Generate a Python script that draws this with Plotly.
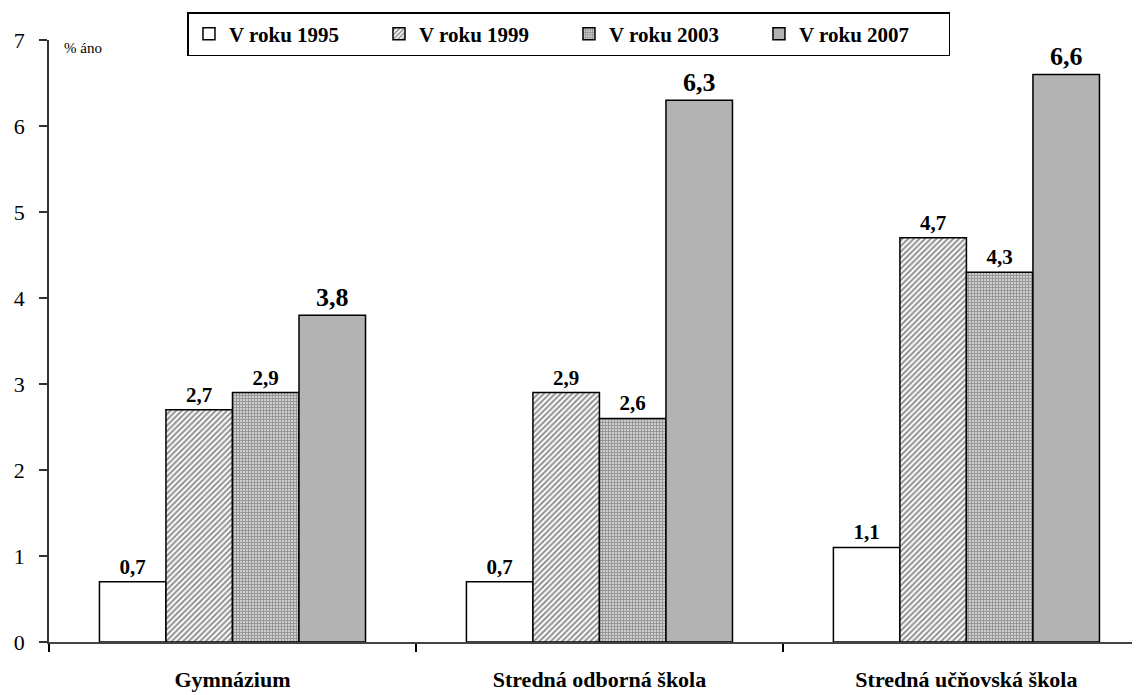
import plotly.graph_objects as go

categories = ["Gymnázium", "Stredná odborná škola", "Stredná učňovská škola"]
series_names = ["V roku 1995", "V roku 1999", "V roku 2003", "V roku 2007"]
v1995 = [0.7, 0.7, 1.1]
v1999 = [2.7, 2.9, 4.7]
v2003 = [2.9, 2.6, 4.3]
v2007 = [3.8, 6.3, 6.6]
y_ticks = [0, 1, 2, 3, 4, 5, 6, 7]

FONT = "Liberation Serif, Times New Roman, serif"

styles = [
    dict(color="white", pattern=None, tsize=21),
    dict(color="white", pattern=dict(shape="/", fgcolor="#222222", bgcolor="white", size=4, solidity=0.5), tsize=21),
    dict(color="#aaaaaa", pattern=dict(shape="+", fgcolor="#555555", bgcolor="#cfcfcf", size=3, solidity=0.5), tsize=21),
    dict(color="#b3b3b3", pattern=None, tsize=26),
]

fig = go.Figure()
for name, vals, st in zip(series_names, [v1995, v1999, v2003, v2007], styles):
    marker = dict(color=st["color"], line=dict(color="black", width=1.5))
    if st["pattern"]:
        marker["pattern"] = st["pattern"]
    fig.add_trace(go.Bar(
        name=name, x=categories, y=vals, marker=marker,
        texttemplate="%{y:.1f}", textposition="outside", constraintext="none",
        textfont=dict(family=FONT, size=st["tsize"], color="black", weight="bold"),
        cliponaxis=False,
    ))

fig.update_layout(
    width=1132, height=687,
    margin=dict(l=41, r=0, t=32, b=53),
    paper_bgcolor="white", plot_bgcolor="white",
    barmode="group", bargap=0.275, bargroupgap=0,
    separators=", ",
    font=dict(family=FONT, color="black"),
    showlegend=True,
    legend=dict(
        orientation="h", x=0.4766, xanchor="center", y=1.0465, yanchor="top",
        bordercolor="black", borderwidth=1.5, bgcolor="white",
        font=dict(family=FONT, size=21, color="black", weight="bold"),
        itemwidth=30, tracegroupgap=0,
        entrywidth=145, entrywidthmode="pixels",
    ),
    xaxis=dict(
        type="category", range=[-0.5, 2.473],
        tickson="boundaries", ticks="outside", ticklen=8, tickcolor="black", tickwidth=1.5,
        showline=True, linecolor="#444444", linewidth=1.5,
        tickfont=dict(family=FONT, size=22, color="black", weight="bold"),
        ticklabelstandoff=17,
        showgrid=False, zeroline=False,
    ),
    yaxis=dict(
        range=[0, 7], tickvals=y_ticks, ticks="outside", ticklen=8,
        tickcolor="#333333", tickwidth=1.5,
        showline=True, linecolor="#333333", linewidth=1.5,
        tickfont=dict(family=FONT, size=22, color="black"),
        ticklabelstandoff=10,
        showgrid=False, zeroline=False,
    ),
    annotations=[dict(
        text="% áno", xref="paper", yref="paper", x=0.012, y=0.987,
        xanchor="left", yanchor="middle", showarrow=False,
        font=dict(family=FONT, size=15, color="black"),
    )],
)

fig.write_html("out.html")
